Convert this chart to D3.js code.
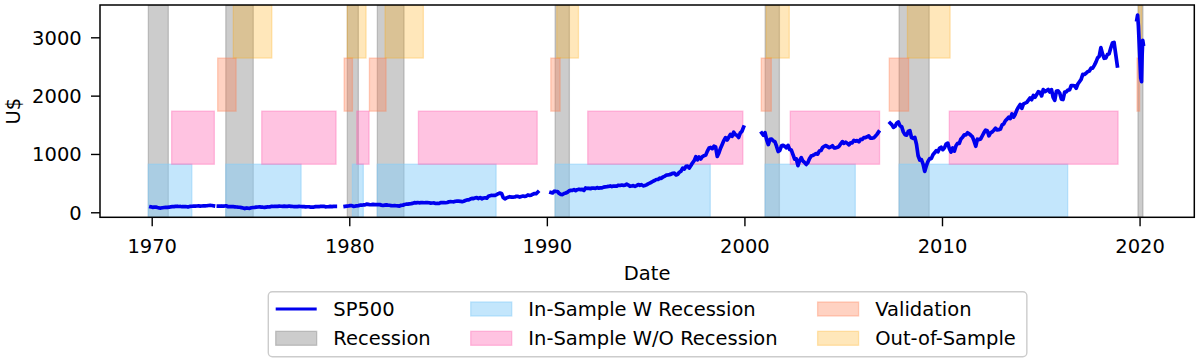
<!DOCTYPE html>
<html><head><meta charset="utf-8">
<script src="https://cdn.jsdelivr.net/npm/d3@7"></script>
<style>
body{margin:0;background:#fff}
svg{display:block}
text{font-family:"DejaVu Sans",sans-serif;fill:#000}
</style>
</head><body>
<svg id="chart" width="1196" height="359"></svg>
<script>
// ---------------- DATA ----------------
const xTicks = [1970, 1980, 1990, 2000, 2010, 2020];
const yTicks = [0, 1000, 2000, 3000];

// Recession periods (decimal years)
const recessionStart = [1969.83, 1973.75, 1979.90, 1981.42, 1990.42, 2001.05, 2007.83, 2019.92];
const recessionEnd   = [1970.84, 1975.14, 1980.46, 1982.77, 1991.14, 2001.77, 2009.35, 2020.17];

// In-Sample W Recession
const inWStart = [1969.83, 1973.75, 1980.16, 1981.42, 1990.42, 2001.05, 2007.83];
const inWEnd   = [1972.03, 1977.56, 1980.71, 1987.43, 1998.27, 2005.61, 2016.36];

// In-Sample W/O Recession
const inWOStart = [1971.01, 1975.57, 1980.38, 1983.50, 1992.07, 2002.32, 2010.37];
const inWOEnd   = [1973.17, 1979.33, 1981.00, 1989.51, 1999.92, 2006.84, 2018.91];

// Validation
const valStart = [1973.34, 1979.74, 1981.02, 1990.20, 2000.85, 2007.33, 2019.87];
const valEnd   = [1974.27, 1980.16, 1981.86, 1990.67, 2001.36, 2008.31, 2020.00];

// Out-of-Sample
const oosStart = [1974.13, 1979.90, 1981.81, 1990.50, 2001.10, 2008.25, 2019.95];
const oosEnd   = [1976.08, 1980.85, 1983.75, 1991.60, 2002.27, 2010.41, 2020.11];

// SP500 segments: monthly values, first value at the given start (decimal year)
const segStarts = [1969.958, 1973.375, 1979.792, 1990.208, 2000.875, 2007.375];
const seg1 = [92.1,
  85.0, 89.5, 89.6, 81.5, 76.6, 72.7, 78.1, 81.5, 84.3, 83.3, 87.2, 92.2,
  95.9, 96.8, 100.3, 103.9, 99.6, 99.7, 95.6, 99.0, 98.3, 94.2, 94.0, 102.1,
  103.9, 106.6, 107.2, 107.7, 109.5, 107.1, 107.4, 111.1, 110.6, 111.6, 116.7, 118.1,
  116.0, 111.7];
const seg2 = [104.95, 104.3, 108.2, 104.25, 108.4, 108.3, 95.96, 97.55,
  96.6, 96.2, 94.0, 90.3, 87.3, 86.0, 79.3, 72.2, 63.5, 73.9, 70.0, 68.6,
  77.0, 81.6, 83.4, 87.3, 91.2, 95.2, 88.8, 86.9, 83.9, 89.0, 91.2, 90.2,
  100.9, 99.7, 102.8, 101.6, 100.2, 104.3, 103.4, 102.9, 105.2, 102.9, 102.1, 107.5,
  102.0, 99.8, 98.4, 98.4, 96.1, 100.5, 98.9, 96.8, 96.5, 92.3, 94.8, 95.1,
  89.3, 87.0, 89.2, 97.0, 97.2, 95.5, 100.7, 103.3, 102.5, 93.2, 94.7, 96.1,
  99.9, 96.3, 101.6, 101.8];
const seg3 = [101.8, 106.2, 107.9,
  114.2, 113.7, 102.1, 106.3, 111.2, 114.2, 121.7, 122.4, 125.5, 127.5, 140.5, 135.8,
  129.6, 131.3, 136.0, 132.8, 132.6, 131.2, 130.9, 122.8, 116.2, 121.9, 126.4, 122.6,
  120.4, 113.1, 112.0, 116.4, 111.9, 109.6, 107.1, 119.5, 120.4, 133.7, 138.5, 140.6,
  145.3, 148.1, 153.0, 164.4, 162.4, 168.1, 162.6, 164.4, 166.1, 163.6, 166.4, 164.9,
  163.4, 157.1, 159.2, 160.1, 150.6, 153.2, 150.7, 166.7, 166.1, 166.1, 163.6, 167.2,
  179.6, 181.2, 180.7, 179.8, 189.6, 191.9, 190.9, 188.6, 182.1, 189.8, 202.2, 211.3,
  211.8, 226.9, 238.9, 235.5, 247.4, 250.8, 236.1, 252.9, 231.3, 244.0, 249.2, 242.2,
  274.1, 284.2, 291.7, 288.4, 290.1, 304.0, 318.7, 329.8, 321.8, 251.8, 230.3, 247.1,
  257.1, 267.8, 258.9, 261.3, 262.2, 273.5, 272.0, 261.5, 271.9, 279.0, 273.7, 277.7,
  297.5, 288.9, 294.9, 309.6, 320.5, 318.0, 346.1];
const seg4 = [339.9, 330.8, 361.2, 358.0, 356.2, 322.6, 306.1, 304.0, 322.2, 330.2,
  343.9, 367.1, 375.2, 375.3, 389.8, 371.2, 387.8, 395.4, 387.9, 392.5, 375.2, 417.1,
  408.8, 412.7, 403.7, 415.0, 415.4, 408.1, 424.2, 414.0, 417.8, 418.7, 431.4, 435.7,
  438.8, 443.4, 451.7, 440.2, 450.2, 450.5, 448.1, 463.6, 458.9, 467.8, 461.8, 466.5,
  481.6, 467.1, 445.8, 450.9, 456.5, 444.3, 458.3, 475.5, 462.7, 472.4, 453.7, 459.3,
  470.4, 487.4, 500.7, 514.7, 533.4, 544.8, 562.1, 561.9, 584.4, 581.5, 605.4, 615.9,
  636.0, 640.4, 645.5, 654.2, 669.1, 670.6, 640.0, 652.0, 687.3, 705.3, 757.0, 740.7,
  786.2, 790.8, 757.1, 801.3, 848.3, 885.1, 954.3, 899.5, 947.3, 914.6, 955.4, 970.4,
  980.3, 1049.3, 1101.8, 1111.8, 1090.8, 1133.8, 1120.7, 957.3, 1017.0, 1098.7, 1163.6, 1229.2,
  1279.6, 1238.3, 1286.4, 1335.2, 1301.8, 1372.7, 1328.7, 1320.4, 1282.7, 1362.9, 1388.9, 1460.0];
const seg5 = [1360.0, 1320.3,
  1366.0, 1239.9, 1160.3, 1249.5, 1255.8, 1224.4, 1211.2, 1133.6, 1040.9, 1059.8, 1139.5, 1148.1,
  1130.2, 1106.7, 1147.4, 1076.9, 1067.1, 989.8, 911.6, 916.1, 800.0, 885.8, 936.3, 879.8,
  855.7, 820.0, 848.2, 916.9, 963.6, 974.5, 990.3, 1008.0, 996.0, 1050.7, 1058.2, 1111.9,
  1131.1, 1144.9, 1126.2, 1107.3, 1120.7, 1140.8, 1101.7, 1104.2, 1114.6, 1130.2, 1173.8, 1211.9,
  1181.3, 1203.6, 1180.6, 1156.9, 1191.5, 1191.3, 1234.2, 1220.3, 1228.8, 1207.0, 1249.5, 1248.3,
  1280.1, 1280.7, 1294.9, 1310.6, 1270.1, 1270.2, 1276.7, 1303.8, 1335.9, 1377.9];
const seg6 = [1530.6, 1503.4, 1455.3, 1474.0, 1526.8, 1549.4, 1481.1, 1468.4,
  1378.6, 1330.6, 1322.7, 1385.6, 1400.4, 1280.0, 1267.4, 1282.8, 1166.4, 968.8, 896.2, 903.3,
  825.9, 700.0, 797.9, 872.8, 919.1, 919.3, 987.5, 1020.6, 1057.1, 1036.2, 1095.6, 1115.1,
  1073.9, 1104.5, 1169.4, 1186.7, 1089.4, 1030.7, 1101.6, 1049.3, 1141.2, 1183.3, 1180.6, 1257.6,
  1286.1, 1327.2, 1325.8, 1363.6, 1345.2, 1320.6, 1292.3, 1218.9, 1131.4, 1253.3, 1247.0, 1257.6,
  1312.4, 1365.7, 1408.5, 1397.9, 1310.3, 1362.2, 1379.3, 1406.6, 1440.7, 1412.2, 1416.2, 1426.2,
  1498.1, 1514.7, 1569.2, 1597.6, 1630.7, 1606.3, 1685.7, 1633.0, 1681.6, 1756.5, 1805.8, 1848.4,
  1782.6, 1859.5, 1872.3, 1884.0, 1923.6, 1960.2, 1930.7, 2003.4, 1972.3, 2018.1, 2067.6, 2058.9,
  1995.0, 2104.5, 2067.9, 2085.5, 2107.4, 2063.1, 2103.8, 1972.2, 1920.0, 2079.4, 2080.4, 2043.9,
  1940.2, 1932.2, 2059.7, 2065.3, 2097.0, 2098.9, 2173.6, 2171.0, 2168.3, 2126.2, 2198.8, 2238.8,
  2278.9, 2363.6, 2362.7, 2384.2, 2411.8, 2423.4, 2470.3, 2471.7, 2519.4, 2575.3, 2647.6, 2673.6,
  2823.8, 2713.8, 2640.9, 2648.1, 2705.3, 2718.4, 2816.3, 2901.5, 2914.0, 2711.7, 2510.0];
// Last segment (2020), explicit dates
const seg7Dates  = [2019.86, 2019.90, 2019.94, 2019.98, 2020.02, 2020.06, 2020.10, 2020.13, 2020.16, 2020.19];
const seg7Values = [3300, 3380, 3200, 2900, 2600, 2300, 2240, 2700, 2950, 2880];

const legendLabels = ["SP500", "Recession", "In-Sample W Recession", "In-Sample W/O Recession", "Validation", "Out-of-Sample"];

// ---------------- CHART ----------------
const svg = d3.select("#chart");
const L = 100, R = 1194.3, T = 5, B = 217.3;
const FS = 19.5;
const x = d3.scaleLinear().domain([1967.383, 2022.77]).range([L, R]);
const y = d3.scaleLinear().domain([-86, 3554]).range([B, T]);
const frac = d3.scaleLinear().domain([0, 1]).range([B, T]);

const styles = {
  rec:  {c: "#808080", a: 0.4},
  inW:  {c: "#87cefa", a: 0.5},
  inWO: {c: "#ff69b4", a: 0.4},
  val:  {c: "#ff7f50", a: 0.35},
  oos:  {c: "#ffa500", a: 0.27}
};

svg.append("defs").append("clipPath").attr("id", "clip")
  .append("rect").attr("x", L).attr("y", T).attr("width", R - L).attr("height", B - T);

const gBands = svg.append("g").attr("clip-path", "url(#clip)");
function bands(starts, ends, st, f0, f1) {
  gBands.append("g").selectAll("rect").data(starts.map((s, i) => [s, ends[i]])).join("rect")
    .attr("x", d => x(d[0])).attr("width", d => Math.max(0.5, x(d[1]) - x(d[0])))
    .attr("y", frac(f1)).attr("height", frac(f0) - frac(f1))
    .attr("fill", st.c).attr("fill-opacity", st.a)
    .attr("stroke", st.c).attr("stroke-opacity", st.a).attr("stroke-width", 1.3);
}
bands(recessionStart, recessionEnd, styles.rec, 0, 1);
bands(inWStart, inWEnd, styles.inW, 0, 0.25);
bands(inWOStart, inWOEnd, styles.inWO, 0.25, 0.5);
bands(valStart, valEnd, styles.val, 0.5, 0.75);
bands(oosStart, oosEnd, styles.oos, 0.75, 1);

// line segments
const segs = [seg1, seg2, seg3, seg4, seg5, seg6].map((vals, i) =>
  vals.map((v, j) => [segStarts[i] + j / 12, v]));
segs.push(seg7Dates.map((d, i) => [d, seg7Values[i]]));
const line = d3.line().x(d => x(d[0])).y(d => y(d[1]));
svg.append("g").attr("clip-path", "url(#clip)").selectAll("path").data(segs).join("path")
  .attr("d", line).attr("fill", "none").attr("stroke", "#0000ee")
  .attr("stroke-width", 3.7).attr("stroke-linejoin", "round").attr("stroke-linecap", "square");

// axes
const xAxis = svg.append("g").attr("transform", `translate(0,${B})`)
  .call(d3.axisBottom(x).tickValues(xTicks).tickFormat(d3.format("d")).tickSize(9).tickPadding(13));
const yAxis = svg.append("g").attr("transform", `translate(${L},0)`)
  .call(d3.axisLeft(y).tickValues(yTicks).tickFormat(d3.format("d")).tickSize(9).tickPadding(9.3));
[xAxis, yAxis].forEach(g => {
  g.select(".domain").remove();
  g.selectAll(".tick line").attr("stroke", "#000").attr("stroke-width", 1.4);
  g.selectAll(".tick text").attr("font-size", FS).attr("font-family", "DejaVu Sans").attr("fill", "#000");
});
yAxis.selectAll(".tick text").attr("dy", "0.36em");

svg.append("rect").attr("x", L).attr("y", T).attr("width", R - L).attr("height", B - T)
  .attr("fill", "none").attr("stroke", "#000").attr("stroke-width", 1.5);

svg.append("text").attr("x", (L + R) / 2).attr("y", 280).attr("text-anchor", "middle")
  .attr("font-size", FS).text("Date");
svg.append("text").attr("transform", `translate(20,${(T + B) / 2}) rotate(-90)`)
  .attr("text-anchor", "middle").attr("font-size", FS).text("U$");

// legend
const leg = svg.append("g");
const legBox = leg.append("rect").attr("fill", "#fff").attr("fill-opacity", 0.8)
  .attr("stroke", "#cccccc").attr("stroke-width", 1.4).attr("rx", 4);
const rowsY = [309, 338.3];
const handleW = 41, textGap = 57.6, colGap = 40;
const legendItems = [
  {label: legendLabels[0], type: "line"},
  {label: legendLabels[1], type: "patch", st: styles.rec},
  {label: legendLabels[2], type: "patch", st: styles.inW},
  {label: legendLabels[3], type: "patch", st: styles.inWO},
  {label: legendLabels[4], type: "patch", st: styles.val},
  {label: legendLabels[5], type: "patch", st: styles.oos}
];
let colX = 275.7, maxRight = 0;
for (let c = 0; c < 3; c++) {
  let maxW = 0;
  for (let r = 0; r < 2; r++) {
    const it = legendItems[c * 2 + r];
    const yy = rowsY[r];
    if (it.type === "line") {
      leg.append("line").attr("x1", colX).attr("x2", colX + handleW).attr("y1", yy).attr("y2", yy)
        .attr("stroke", "#0000ee").attr("stroke-width", 3);
    } else {
      leg.append("rect").attr("x", colX).attr("y", yy - 7).attr("width", handleW).attr("height", 14)
        .attr("fill", it.st.c).attr("fill-opacity", it.st.a)
        .attr("stroke", it.st.c).attr("stroke-opacity", it.st.a).attr("stroke-width", 1.3);
    }
    const t = leg.append("text").attr("x", colX + textGap).attr("y", yy + 7.1)
      .attr("font-size", FS).text(it.label);
    maxW = Math.max(maxW, t.node().getComputedTextLength());
  }
  maxRight = colX + textGap + maxW;
  colX = colX + textGap + maxW + colGap;
}
legBox.attr("x", 268.3).attr("y", 291.7).attr("width", (maxRight + 11) - 268.3).attr("height", 65);
</script>
</body></html>
